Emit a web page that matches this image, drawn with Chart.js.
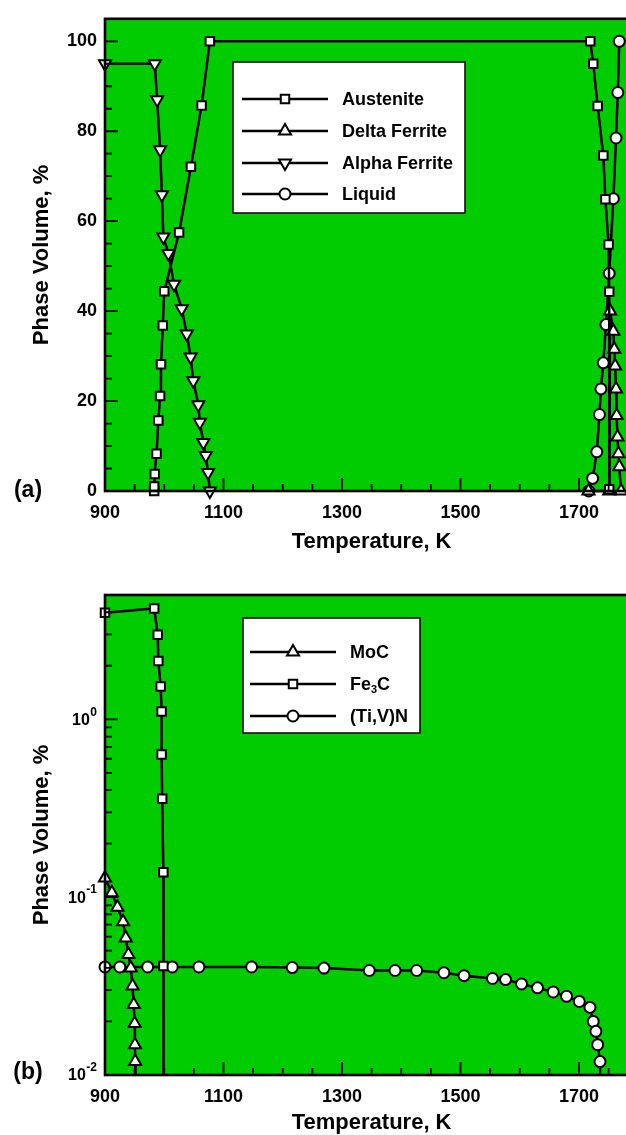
<!DOCTYPE html>
<html>
<head>
<meta charset="utf-8">
<script src="https://cdn.jsdelivr.net/npm/chart.js@4.4.1/dist/chart.umd.min.js"></script>
<style>
  html, body { margin: 0; padding: 0; background: #fff; overflow: hidden; }
  #wrapA { position: absolute; left: 0; top: 0; }
  #wrapB { position: absolute; left: 0; top: 560px; }
</style>
</head>
<body>
<div id="wrapA"><canvas id="chartA" width="660" height="560"></canvas></div>
<div id="wrapB"><canvas id="chartB" width="660" height="590"></canvas></div>
<script>
// (a) major phases, volume %
const austeniteT = [983, 983, 984, 987, 990, 993, 994.5, 997.5, 1000, 1025, 1045, 1063, 1077, 1719, 1724, 1731.5, 1741, 1744.5, 1750, 1751, 1751];
const austeniteVol = [0, 1, 3.8, 8.3, 15.7, 21.1, 28.2, 36.8, 44.4, 57.5, 72.1, 85.7, 100, 100, 95, 85.6, 74.6, 64.9, 54.8, 44.3, 0.4];

const deltaT = [1716, 1751, 1752.5, 1758, 1759.5, 1761, 1762.5, 1763.5, 1765, 1766.5, 1768, 1771];
const deltaVol = [0, 0, 40, 35.5, 31.5, 27.8, 22.7, 16.8, 12, 8.3, 5.4, 0];

const alphaT = [900, 984, 988, 993, 996, 998.5, 1007, 1016.5, 1029.5, 1038, 1044.5, 1049, 1057.5, 1060, 1066, 1070, 1074, 1077];
const alphaVol = [95, 95, 87, 75.9, 65.9, 56.5, 52.8, 46, 40.5, 34.9, 29.8, 24.5, 19.2, 15.3, 10.8, 7.9, 4.1, 0];

const liquidT = [1716.5, 1723, 1730, 1734.5, 1737, 1741, 1745.5, 1751, 1758, 1762.5, 1765.5, 1768];
const liquidVol = [0, 2.8, 8.7, 17, 22.7, 28.5, 37, 48.4, 65, 78.5, 88.6, 100];

// (b) precipitates, volume % (last points fall below the axis)
const mocT = [900, 911.5, 921, 930.5, 935, 939.5, 943.5, 946.5, 948.5, 950, 950.5, 951, 951.5];
const mocVol = [0.128, 0.106, 0.0877, 0.0727, 0.0589, 0.0476, 0.0399, 0.0317, 0.0249, 0.0195, 0.0148, 0.0119, 0.001];

const fe3cT = [900, 983, 989, 990, 994, 995.5, 995.5, 996.5, 998.5, 998.5, 999];
const fe3cVol = [3.97, 4.2, 2.99, 2.13, 1.53, 1.106, 0.634, 0.358, 0.138, 0.041, 0.001];

const tivnT = [900, 925, 972, 1013.5, 1058.5, 1147.5, 1216, 1269.5, 1346, 1389.5, 1426, 1472, 1506, 1554, 1576, 1603, 1630, 1656.5, 1679, 1700.5, 1718.5, 1724, 1728.5, 1731.5, 1735.5, 1738];
const tivnVol = [0.0405, 0.0405, 0.0405, 0.0405, 0.0405, 0.0405, 0.0402, 0.0399, 0.0387, 0.0387, 0.0387, 0.0376, 0.0362, 0.0349, 0.0344, 0.0325, 0.0309, 0.0293, 0.0277, 0.0259, 0.024, 0.02, 0.0176, 0.0148, 0.0119, 0.001];

// axis ticks
const xTicks = [900, 1100, 1300, 1500, 1700];
const yTicksA = [0, 20, 40, 60, 80, 100];
const decadesB = [-2, -1, 0];

const FONT = "'Liberation Sans', Arial, Helvetica, sans-serif";
const GREEN = '#00cc00';

function steps(from, to, step) {
  const out = [];
  for (let v = from; v <= to; v += step) out.push(v);
  return out;
}

const xMinor = steps(900, 1800, 50).filter(v => !xTicks.includes(v));
const yMinorA = steps(0, 105, 5).filter(v => !yTicksA.includes(v));
const yMinorB = [];
decadesB.forEach(d => { for (let k = 2; k <= 9; k++) { const v = k * Math.pow(10, d); if (v <= 5) yMinorB.push(v); } });

function series(label, temps, vols, style, radius, rotation, clip) {
  return {
    label,
    data: temps.map((t, i) => ({ x: t, y: vols[i] })),
    showLine: true,
    borderColor: '#000',
    borderWidth: 2.5,
    pointStyle: style,
    pointRadius: radius,
    pointRotation: rotation,
    pointBackgroundColor: '#fff',
    pointBorderColor: '#000',
    pointBorderWidth: 2,
    clip
  };
}

// text with '_' marking the next character as subscript
function drawRich(ctx, text, x, y, size) {
  let cx = x;
  for (let i = 0; i < text.length; i++) {
    let ch = text[i], sub = false;
    if (ch === '_') { ch = text[++i]; sub = true; }
    ctx.font = `bold ${sub ? Math.round(size * 0.62) : size}px ${FONT}`;
    ctx.fillText(ch, cx, sub ? y + size * 0.3 : y);
    cx += ctx.measureText(ch).width;
  }
}

// green plot area, inward ticks and frame
const frameDeco = {
  id: 'frameDeco',
  beforeDatasetsDraw(chart, args, o) {
    const { ctx, chartArea: a } = chart;
    ctx.save();
    ctx.fillStyle = GREEN;
    ctx.fillRect(a.left, a.top, a.right - a.left, a.bottom - a.top);
    ctx.restore();
  },
  afterDatasetsDraw(chart, args, o) {
    const { ctx, chartArea: a, scales: { x, y } } = chart;
    ctx.save();
    ctx.strokeStyle = '#000';
    ctx.lineWidth = 1.8;
    ctx.beginPath();
    const xt = (v, len) => { const p = x.getPixelForValue(v); ctx.moveTo(p, a.bottom); ctx.lineTo(p, a.bottom - len); };
    const yt = (v, len) => { const p = y.getPixelForValue(v); ctx.moveTo(a.left, p); ctx.lineTo(a.left + len, p); };
    o.xMajor.forEach(v => xt(v, 13));
    o.xMinor.forEach(v => xt(v, 7));
    o.yMajor.forEach(v => yt(v, 13));
    o.yMinor.forEach(v => yt(v, 7));
    ctx.stroke();
    ctx.lineWidth = 2.6;
    ctx.strokeRect(a.left, a.top, a.right - a.left, a.bottom - a.top);
    ctx.restore();
  },
  afterDraw(chart, args, o) {
    const { ctx } = chart;
    ctx.save();
    ctx.fillStyle = '#000';
    ctx.textBaseline = 'middle';
    ctx.textAlign = 'center';
    ctx.font = `bold 23px ${FONT}`;
    ctx.fillText(o.tag.text, o.tag.x, o.tag.y);
    if (o.powers) {
      const y = chart.scales.y;
      ctx.textAlign = 'right';
      o.powers.forEach(d => {
        const py = y.getPixelForValue(Math.pow(10, d));
        const exp = String(d);
        ctx.font = `bold 12px ${FONT}`;
        const ew = ctx.measureText(exp).width;
        ctx.fillText(exp, 97, py - 7);
        ctx.font = `bold 16px ${FONT}`;
        ctx.fillText('10', 97 - ew - 0.5, py + 1);
      });
    }
    ctx.restore();
  }
};

// boxed legend inside the plot
const boxLegend = {
  id: 'boxLegend',
  afterDraw(chart, args, o) {
    const { ctx } = chart;
    const b = o.box;
    ctx.save();
    ctx.fillStyle = '#fff';
    ctx.fillRect(b.left, b.top, b.right - b.left, b.bottom - b.top);
    ctx.strokeStyle = '#000';
    ctx.lineWidth = 1.5;
    ctx.strokeRect(b.left, b.top, b.right - b.left, b.bottom - b.top);
    chart.data.datasets.forEach((ds, i) => {
      const yy = o.rows[i];
      ctx.strokeStyle = '#000';
      ctx.lineWidth = 2.5;
      ctx.beginPath();
      ctx.moveTo(o.lineFrom, yy);
      ctx.lineTo(o.lineTo, yy);
      ctx.stroke();
      ctx.fillStyle = '#fff';
      ctx.lineWidth = ds.pointBorderWidth;
      Chart.helpers.drawPoint(ctx, {
        pointStyle: ds.pointStyle,
        radius: ds.pointRadius,
        rotation: ds.pointRotation || 0,
        borderWidth: ds.pointBorderWidth
      }, o.markX, yy);
      ctx.fillStyle = '#000';
      ctx.textAlign = 'left';
      ctx.textBaseline = 'middle';
      drawRich(ctx, o.labels[i], o.textX, yy + 1, 18);
    });
    ctx.restore();
  }
};

const tickFont = { family: FONT, size: 18, weight: 'bold' };
const titleFont = { family: FONT, size: 22, weight: 'bold' };

function xScale(axisHeight, titlePad) {
  return {
    type: 'linear', min: 900, max: 1800,
    grid: { display: false, drawTicks: false },
    border: { display: false },
    afterBuildTicks: s => { s.ticks = xTicks.map(v => ({ value: v })); },
    afterFit: s => { s.height = axisHeight; },
    ticks: { font: tickFont, color: '#000', padding: 11, maxRotation: 0, autoSkip: false, callback: v => String(v) },
    title: { display: true, text: 'Temperature, K', font: titleFont, color: '#000', padding: { top: 0, bottom: titlePad } }
  };
}

const yTitle = { display: true, text: 'Phase Volume, %', font: titleFont, color: '#000', padding: { top: 29, bottom: 0 } };

new Chart(document.getElementById('chartA'), {
  type: 'scatter',
  data: {
    datasets: [
      series('Austenite', austeniteT, austeniteVol, 'rect', 6, 0, 10),
      series('Delta Ferrite', deltaT, deltaVol, 'triangle', 7, 0, 10),
      series('Alpha Ferrite', alphaT, alphaVol, 'triangle', 7, 180, 10),
      series('Liquid', liquidT, liquidVol, 'circle', 5.5, 0, 10)
    ]
  },
  options: {
    responsive: false,
    animation: false,
    events: [],
    layout: { padding: { left: 0, top: 14, right: 21.75, bottom: 0 } },
    plugins: {
      legend: { display: false },
      tooltip: { enabled: false },
      frameDeco: { xMajor: xTicks, xMinor, yMajor: yTicksA, yMinor: yMinorA, tag: { text: '(a)', x: 28, y: 491 } },
      boxLegend: {
        box: { left: 233, top: 62, right: 465, bottom: 213 },
        rows: [99, 131, 163, 194],
        lineFrom: 242, lineTo: 328, markX: 285, textX: 342,
        labels: ['Austenite', 'Delta Ferrite', 'Alpha Ferrite', 'Liquid']
      }
    },
    scales: {
      x: xScale(69, 5),
      y: {
        min: 0, max: 105,
        grid: { display: false, drawTicks: false },
        border: { display: false },
        afterBuildTicks: s => { s.ticks = yTicksA.map(v => ({ value: v })); },
        afterFit: s => { s.width = 105; },
        ticks: { font: tickFont, color: '#000', padding: 8, callback: v => String(v) },
        title: yTitle
      }
    }
  },
  plugins: [frameDeco, boxLegend]
});

const clipB = { left: 10, top: 10, right: 10, bottom: 0 };

new Chart(document.getElementById('chartB'), {
  type: 'scatter',
  data: {
    datasets: [
      series('MoC', mocT, mocVol, 'triangle', 7, 0, clipB),
      series('Fe_3C', fe3cT, fe3cVol, 'rect', 6, 0, clipB),
      series('(Ti,V)N', tivnT, tivnVol, 'circle', 5.5, 0, clipB)
    ]
  },
  options: {
    responsive: false,
    animation: false,
    events: [],
    layout: { padding: { left: 0, top: 35, right: 21.75, bottom: 0 } },
    plugins: {
      legend: { display: false },
      tooltip: { enabled: false },
      frameDeco: {
        xMajor: xTicks, xMinor,
        yMajor: decadesB.map(d => Math.pow(10, d)), yMinor: yMinorB,
        tag: { text: '(b)', x: 28, y: 513 },
        powers: decadesB
      },
      boxLegend: {
        box: { left: 243, top: 58, right: 420, bottom: 173 },
        rows: [92, 124, 156],
        lineFrom: 250, lineTo: 336, markX: 293, textX: 350,
        labels: ['MoC', 'Fe_3C', '(Ti,V)N']
      }
    },
    scales: {
      x: xScale(75, 14),
      y: {
        type: 'logarithmic', min: 0.01, max: 5,
        grid: { display: false, drawTicks: false },
        border: { display: false },
        afterFit: s => { s.width = 105; },
        ticks: { display: false },
        title: yTitle
      }
    }
  },
  plugins: [frameDeco, boxLegend]
});
</script>
</body>
</html>
